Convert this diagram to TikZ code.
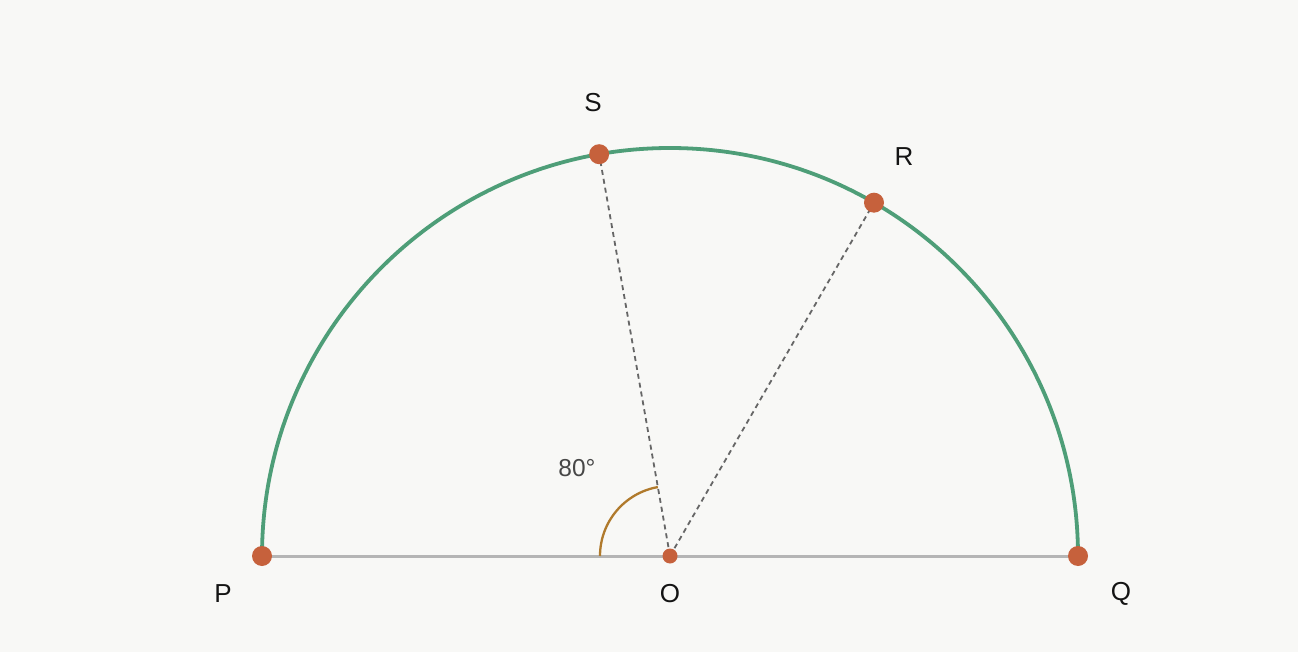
\documentclass[tikz,border=0pt]{standalone}
\usepackage{fontspec}
\setmainfont{Liberation Sans}
\definecolor{bg}{HTML}{F8F8F6}
\definecolor{arcgreen}{HTML}{4E9E78}
\definecolor{dotc}{HTML}{C6613C}
\definecolor{basec}{HTML}{B5B5B5}
\definecolor{dashc}{HTML}{666666}
\definecolor{anglec}{HTML}{B07A2C}
\tikzset{
  pt/.style={circle,fill=dotc,inner sep=0pt,minimum size=20pt},
  ptsmall/.style={circle,fill=dotc,inner sep=0pt,minimum size=15pt},
  lab/.style={font=\fontsize{26}{30}\selectfont,text=black!92},
  anglab/.style={font=\fontsize{24.5}{28}\selectfont,text=black!72},
  radius line/.style={draw=dashc,line width=1.8pt,dash pattern=on 5pt off 4pt}
}
\begin{document}
\begin{tikzpicture}[x=1pt,y=-1pt]
\fill[bg] (0,0) rectangle (1298,652);
\useasboundingbox (0,0) rectangle (1298,652);
\coordinate (Oc) at (670,556);
\coordinate (Pc) at (262,556);
\coordinate (Qc) at (1078,556);
\path (670,556) ++(-100:408) coordinate (Sc);
\path (670,556) ++(-60:408) coordinate (Rc);
\path (670,556) ++(180:70) coordinate (A1);
% baseline
\draw[basec,line width=3pt] (Pc) -- (Qc);
% semicircle
\draw[arcgreen,line width=3.8pt] (Pc) arc[start angle=180,end angle=360,radius=408];
% radii
\draw[radius line] (Oc) -- (Sc);
\draw[radius line] (Oc) -- (Rc);
% angle arc
\draw[anglec,line width=2.3pt] (A1) arc[start angle=180,end angle=260,radius=70];
% points
\node[pt] (P) at (Pc) {};
\node[pt] (Q) at (Qc) {};
\node[pt] (S) at (Sc) {};
\node[pt] (R) at (Rc) {};
\node[ptsmall] (O) at (Oc) {};
% labels
\node[lab] (lS) at (593,103) {S};
\node[lab] (lR) at (904,157) {R};
\node[lab] (lP) at (223,594) {P};
\node[lab] (lO) at (670,594) {O};
\node[lab] (lQ) at (1121,594) {Q};
\node[anglab] (lA) at (577,468) {80°};
\end{tikzpicture}
\end{document}
